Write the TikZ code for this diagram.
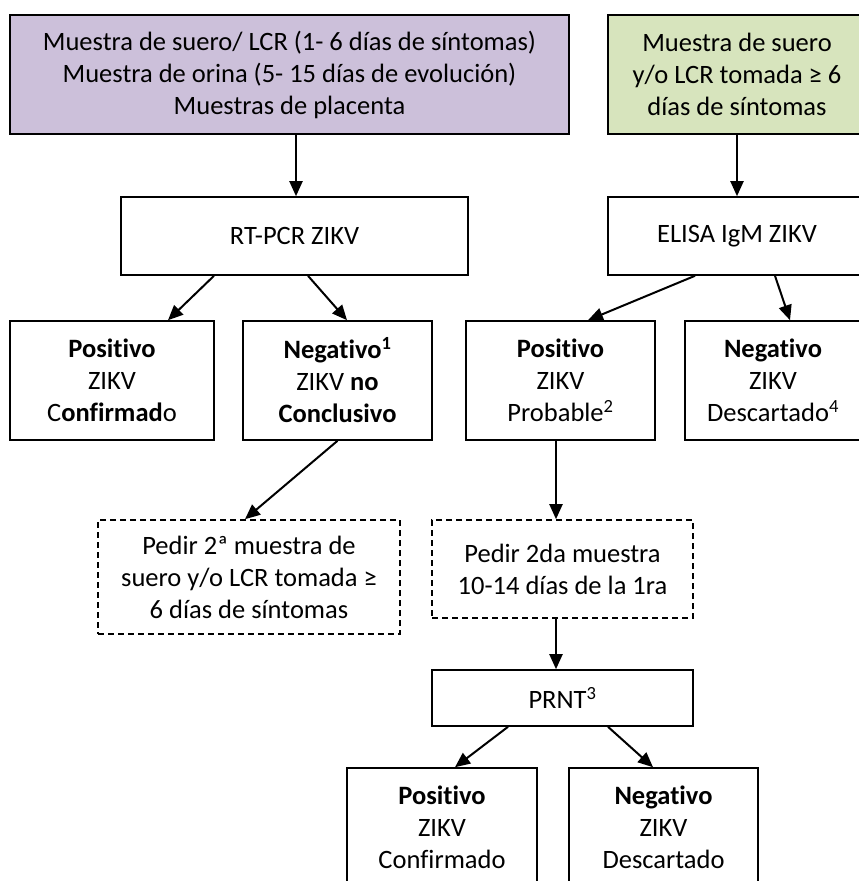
\documentclass[tikz,border=0pt]{standalone}
\usepackage{fontspec}
\setmainfont{Carlito}[Ligatures=NoCommon]
\usetikzlibrary{arrows.meta}
\definecolor{lilac}{HTML}{CCC0DA}
\definecolor{sage}{HTML}{D7E4BD}
\tikzset{
  box/.style={draw=black, line width=1.6pt, rectangle, inner sep=0pt,
    align=center, font=\fontsize{26.5}{32}\selectfont},
  dashbox/.style={box, dash pattern=on 6pt off 4pt},
  link/.style={line width=2pt, -{Triangle[length=15pt,width=13pt]}}
}
\begin{document}
\begin{tikzpicture}[x=1pt,y=-1pt]
\clip (0,0) rectangle (859,881);
\fill[white] (0,0) rectangle (859,881);

% sample sources
\node[box, fill=lilac, minimum width=559pt, minimum height=119pt] (topL) at (289.5,74.5)
  {Muestra de suero/ LCR (1- 6 días de síntomas)\\Muestra de orina (5- 15 días de evolución)\\Muestras de placenta};
\node[box, fill=sage, minimum width=258pt, minimum height=119pt] (topR) at (737,74.5)
  {Muestra de suero\\y/o LCR tomada ≥ 6\\días de síntomas};

% tests
\node[box, minimum width=347pt, minimum height=78pt] (rtpcr) at (294.5,236) {RT-PCR ZIKV};
\node[box, minimum width=258pt, minimum height=78pt] (elisa) at (737,236) {ELISA IgM ZIKV};

% first results
\node[box, minimum width=204pt, minimum height=119pt] (pos1) at (112,380.5)
  {\textbf{Positivo}\\ZIKV\\C\textbf{onfirmad}o};
\node[box, minimum width=189pt, minimum height=119pt] (neg1) at (337.5,380.5)
  {\textbf{Negativo\textsuperscript{1}}\\ZIKV \textbf{no}\\\textbf{Conclusivo}};
\node[box, minimum width=189pt, minimum height=119pt] (pos2) at (560.5,380.5)
  {\textbf{Positivo}\\ZIKV\\Probable\textsuperscript{2}};
\node[box, minimum width=176pt, minimum height=119pt] (neg2) at (773,380.5)
  {\textbf{Negativo}\\ZIKV\\Descartado\textsuperscript{4}};

% second samples
\node[dashbox, minimum width=302pt, minimum height=114pt] (dashL) at (249,577)
  {Pedir 2ª muestra de\\suero y/o LCR tomada ≥\\6 días de síntomas};
\node[dashbox, minimum width=261pt, minimum height=98pt] (dashR) at (562.5,569)
  {Pedir 2da muestra\\10-14 días de la 1ra};

% neutralisation test
\node[box, minimum width=261pt, minimum height=56pt] (prnt) at (562.5,698) {PRNT\textsuperscript{3}};

% final results
\node[box, minimum width=190pt, minimum height=119pt] (pos3) at (442,827.5)
  {\textbf{Positivo}\\ZIKV\\Confirmado};
\node[box, minimum width=189pt, minimum height=119pt] (neg3) at (663.5,827.5)
  {\textbf{Negativo}\\ZIKV\\Descartado};

% connectors
\draw[link] ([xshift=6.5pt]topL.south) -- ([xshift=1.5pt]rtpcr.north);
\draw[link] (topR.south) -- (elisa.north);
\draw[link] ([xshift=-80.5pt]rtpcr.south) -- ([xshift=56pt]pos1.north);
\draw[link] ([xshift=13.5pt]rtpcr.south) -- ([xshift=9.5pt]neg1.north);
\draw[link] ([xshift=-42pt]elisa.south) -- ([xshift=27.5pt]pos2.north);
\draw[link] ([xshift=38pt]elisa.south) -- ([xshift=17pt]neg2.north);
\draw[link] (neg1.south) -- ([xshift=-4pt]dashL.north);
\draw[link] ([xshift=-4.5pt]pos2.south) -- ([xshift=-6.5pt]dashR.north);
\draw[link] ([xshift=-6.5pt]dashR.south) -- ([xshift=-6.5pt]prnt.north);
\draw[link] ([xshift=-54.5pt]prnt.south) -- ([xshift=13pt]pos3.north);
\draw[link] ([xshift=45.5pt]prnt.south) -- ([xshift=-10.5pt]neg3.north);
\end{tikzpicture}
\end{document}
